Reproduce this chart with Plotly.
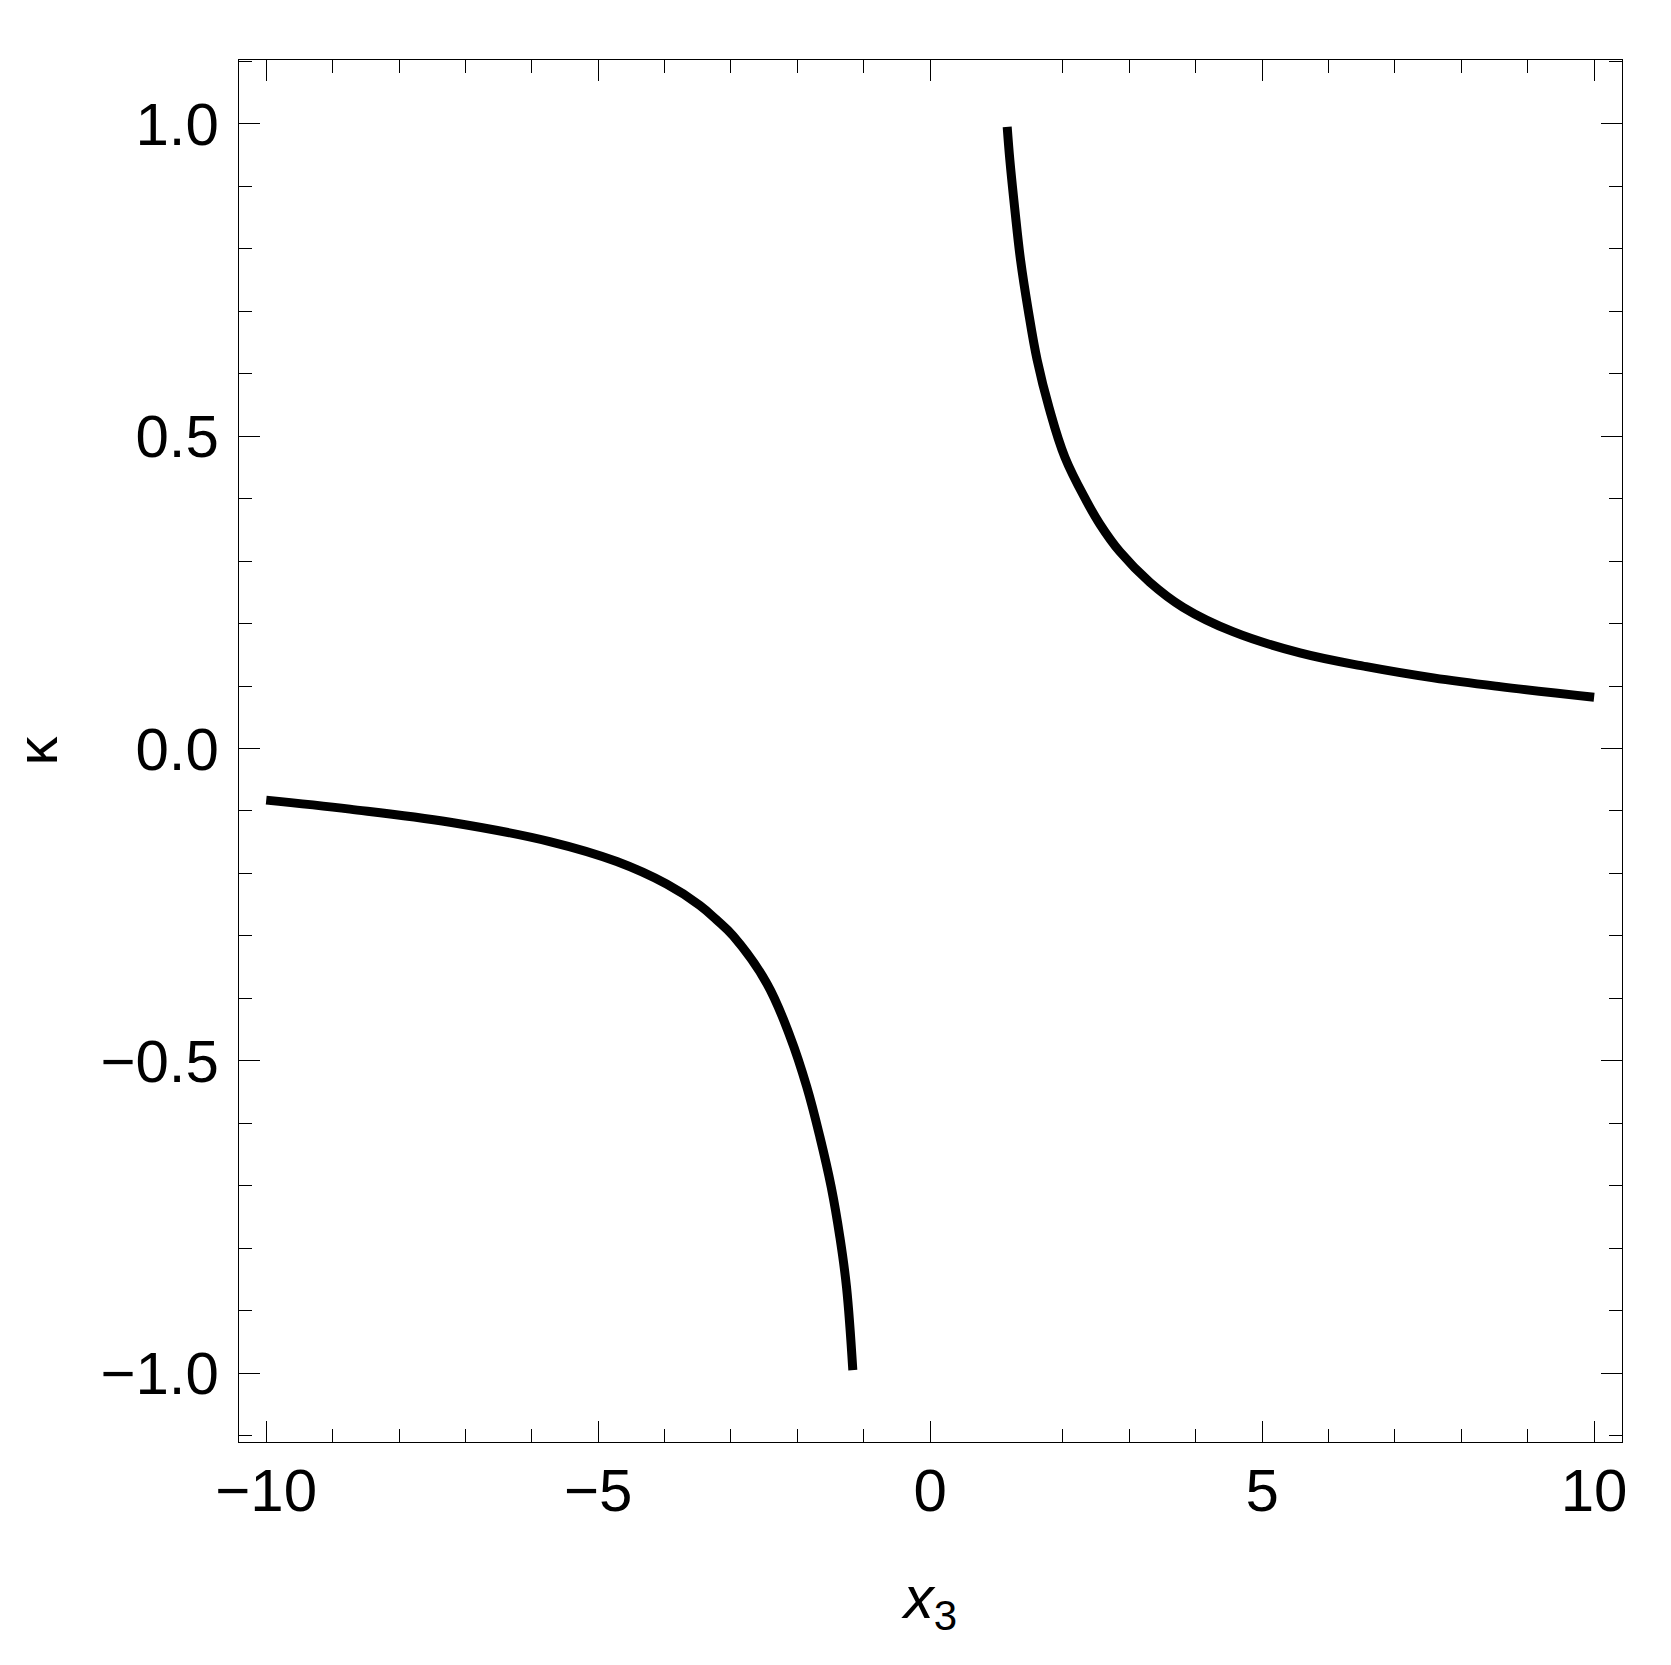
import plotly.graph_objects as go

# Upper branch (x3 > 0)
x_pos = [1.16, 1.20, 1.276, 1.361, 1.476, 1.611, 1.792, 2.03, 2.355, 2.557, 2.857,
         3.31, 3.81, 4.56, 5.57, 6.57, 7.58, 8.58, 10.0]
k_pos = [0.995, 0.942, 0.862, 0.782, 0.702, 0.622, 0.545, 0.466, 0.396, 0.359, 0.315,
         0.266, 0.226, 0.187, 0.153, 0.131, 0.113, 0.099, 0.082]

# Lower branch (x3 < 0)
x_neg = [-10.0, -8.74, -7.23, -5.73, -4.72, -3.97, -3.47, -3.22, -2.967, -2.46, -2.11,
         -1.86, -1.66, -1.49, -1.36, -1.26, -1.165]
k_neg = [-0.0826, -0.097, -0.118, -0.149, -0.181, -0.217, -0.251, -0.274, -0.300, -0.376, -0.461,
         -0.541, -0.622, -0.702, -0.782, -0.862, -0.995]

x_tickvals = [-10, -5, 0, 5, 10]
x_ticktext = ["\u221210", "\u22125", "0", "5", "10"]
x_minor = [-9, -8, -7, -6, -4, -3, -2, -1, 2, 3, 4, 6, 7, 8, 9]
y_tickvals = [-1.0, -0.5, 0.0, 0.5, 1.0]
y_ticktext = ["\u22121.0", "\u22120.5", "0.0", "0.5", "1.0"]
y_minor = [-1.1, -0.9, -0.8, -0.7, -0.6, -0.4, -0.3, -0.2, -0.1,
           0.1, 0.2, 0.3, 0.4, 0.6, 0.7, 0.8, 0.9, 1.1]

FONT = "Liberation Sans, Arial, sans-serif"

fig = go.Figure()
for xs, ys in [(x_pos, k_pos), (x_neg, k_neg)]:
    fig.add_trace(go.Scatter(x=xs, y=ys, mode="lines",
                             line=dict(color="black", width=9, shape="spline", smoothing=1.1),
                             showlegend=False, hoverinfo="skip"))

axis_common = dict(
    showline=True, linecolor="black", linewidth=1.3, mirror="ticks",
    ticks="inside", ticklen=21, tickwidth=1.3, tickcolor="black",
    showgrid=False, zeroline=False,
    tickfont=dict(family=FONT, size=60, color="black"),
)

fig.update_xaxes(
    range=[-10.41, 10.42], tickmode="array", tickvals=x_tickvals, ticktext=x_ticktext,
    minor=dict(tickmode="array", tickvals=x_minor, ticks="inside", ticklen=13,
               tickwidth=1.3, tickcolor="black", showgrid=False),
    title=dict(text="<i>x</i><sub>3</sub>", font=dict(family=FONT, size=60, color="black"),
               standoff=52),
    ticklabelstandoff=-4,
    **axis_common,
)
fig.update_yaxes(
    range=[-1.110, 1.102], tickmode="array", tickvals=y_tickvals, ticktext=y_ticktext,
    minor=dict(tickmode="array", tickvals=y_minor, ticks="inside", ticklen=13,
               tickwidth=1.3, tickcolor="black", showgrid=False),
    ticklabelstandoff=7,
    **axis_common,
)

# y-axis title as a rotated annotation (placed left of the tick labels)
fig.add_annotation(
    text="\u03ba", xref="paper", yref="paper", x=-0.172, y=0.5,
    xanchor="left", yanchor="middle", textangle=-90, showarrow=False,
    font=dict(family=FONT, size=58, color="black"),
)

fig.update_layout(
    width=1671, height=1665,
    margin=dict(l=239, r=49, t=60, b=223, autoexpand=False),
    plot_bgcolor="white", paper_bgcolor="white",
)

# remove the default page margin so the figure starts at the page corner
fig.write_html("out.html", config={"displayModeBar": False},
               post_script="document.body.style.margin='0';")
